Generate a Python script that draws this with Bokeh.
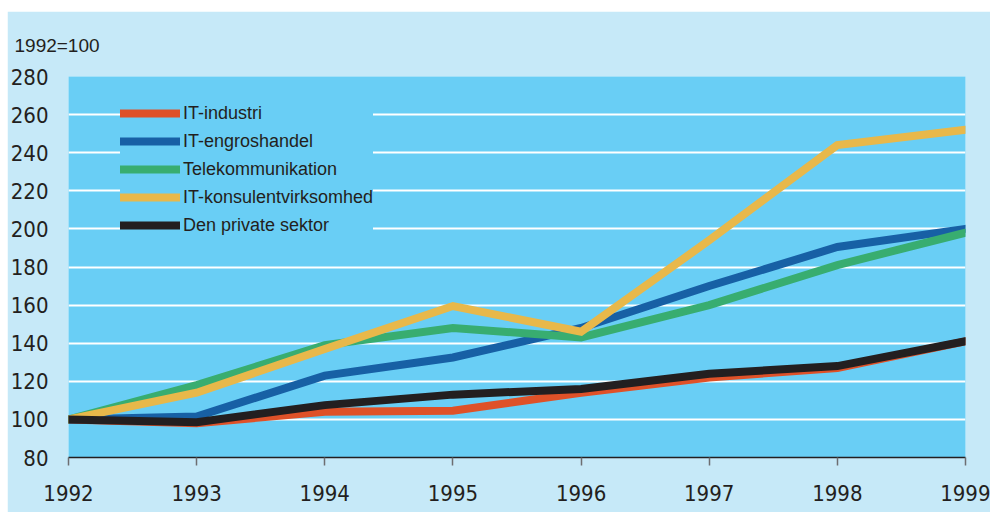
from bokeh.plotting import figure
from bokeh.models import (Range1d, FixedTicker, Legend, LegendItem, ColumnDataSource, Spacer)
from bokeh.layouts import column, row
from bokeh.embed import file_html
from bokeh.resources import INLINE

years = [1992, 1993, 1994, 1995, 1996, 1997, 1998, 1999]
it_industri = [100, 98, 104, 104.5, 114, 122, 127, 141]
it_engros = [100, 101.5, 123, 132.5, 148, 170, 190.5, 200]
telekom = [100, 118, 139, 148, 143, 160, 181, 198]
it_konsulent = [100, 114, 137, 159.5, 146, 194, 244, 252]
privat = [100, 98.5, 107.5, 113, 116, 124, 128, 141]

series_names = ["IT-industri", "IT-engroshandel", "Telekommunikation",
                "IT-konsulentvirksomhed", "Den private sektor"]
series_values = [it_industri, it_engros, telekom, it_konsulent, privat]
series_colors = ["#df5128", "#1760a5", "#38ad70", "#e8b84a", "#231f20"]

y_ticks = [80, 100, 120, 140, 160, 180, 200, 220, 240, 260, 280]
index_note = "1992=100"

OUTER = "#c6e9f8"
PLOT = "#69cef5"
TEXT = "#231f20"
TICK_FONT = "DejaVu Sans Condensed, Liberation Sans"

p = figure(width=983, height=501, output_backend="svg", toolbar_location=None,
           x_range=Range1d(1992, 1999), y_range=Range1d(80, 280),
           min_border_left=60, min_border_right=25, min_border_top=65, min_border_bottom=55,
           background_fill_color=PLOT, border_fill_color=OUTER, outline_line_color=None)

p.title.text = index_note
p.title.align = "left"
p.title.offset = -54
p.title.standoff = 41
p.title.text_font = "Liberation Sans"
p.title.text_font_size = "19px"
p.title.text_font_style = "normal"
p.title.text_color = TEXT

p.xgrid.grid_line_color = None
p.ygrid.ticker = FixedTicker(ticks=y_ticks)
p.ygrid.grid_line_color = "white"
p.ygrid.grid_line_width = 2

p.yaxis.ticker = FixedTicker(ticks=y_ticks)
p.yaxis.axis_line_color = None
p.yaxis.major_tick_line_color = None
p.yaxis.minor_tick_line_color = None
p.yaxis.major_tick_out = 0
p.yaxis.major_label_standoff = 20

p.xaxis.ticker = FixedTicker(ticks=years)
p.xaxis.axis_line_color = TEXT
p.xaxis.axis_line_width = 1.5
p.xaxis.major_tick_in = 0
p.xaxis.major_tick_out = 8
p.xaxis.major_tick_line_color = "#6d6e71"
p.xaxis.major_tick_line_width = 1.5
p.xaxis.minor_tick_line_color = None
p.xaxis.major_label_standoff = 19

for ax in (p.xaxis, p.yaxis):
    ax.major_label_text_font = TICK_FONT
    ax.major_label_text_font_size = "22px"
    ax.major_label_text_color = TEXT

items = []
for name, vals, col in zip(series_names, series_values, series_colors):
    src = ColumnDataSource(dict(x=years, y=vals))
    r = p.line("x", "y", source=src, line_color=col, line_width=8,
               line_cap="round", line_join="miter")
    items.append(LegendItem(label=name, renderers=[r]))

legend = Legend(items=items, location=(52, 218), margin=0, padding=18,
                spacing=0, glyph_width=60, glyph_height=28, label_height=28,
                label_standoff=3, label_text_font="Liberation Sans",
                label_text_font_size="18px", label_text_color=TEXT,
                background_fill_color=PLOT, background_fill_alpha=1.0,
                border_line_color=None)
p.add_layout(legend)

layout = column(Spacer(height=11), row(Spacer(width=7), p))
open("out.html", "w").write(file_html(layout, INLINE))
